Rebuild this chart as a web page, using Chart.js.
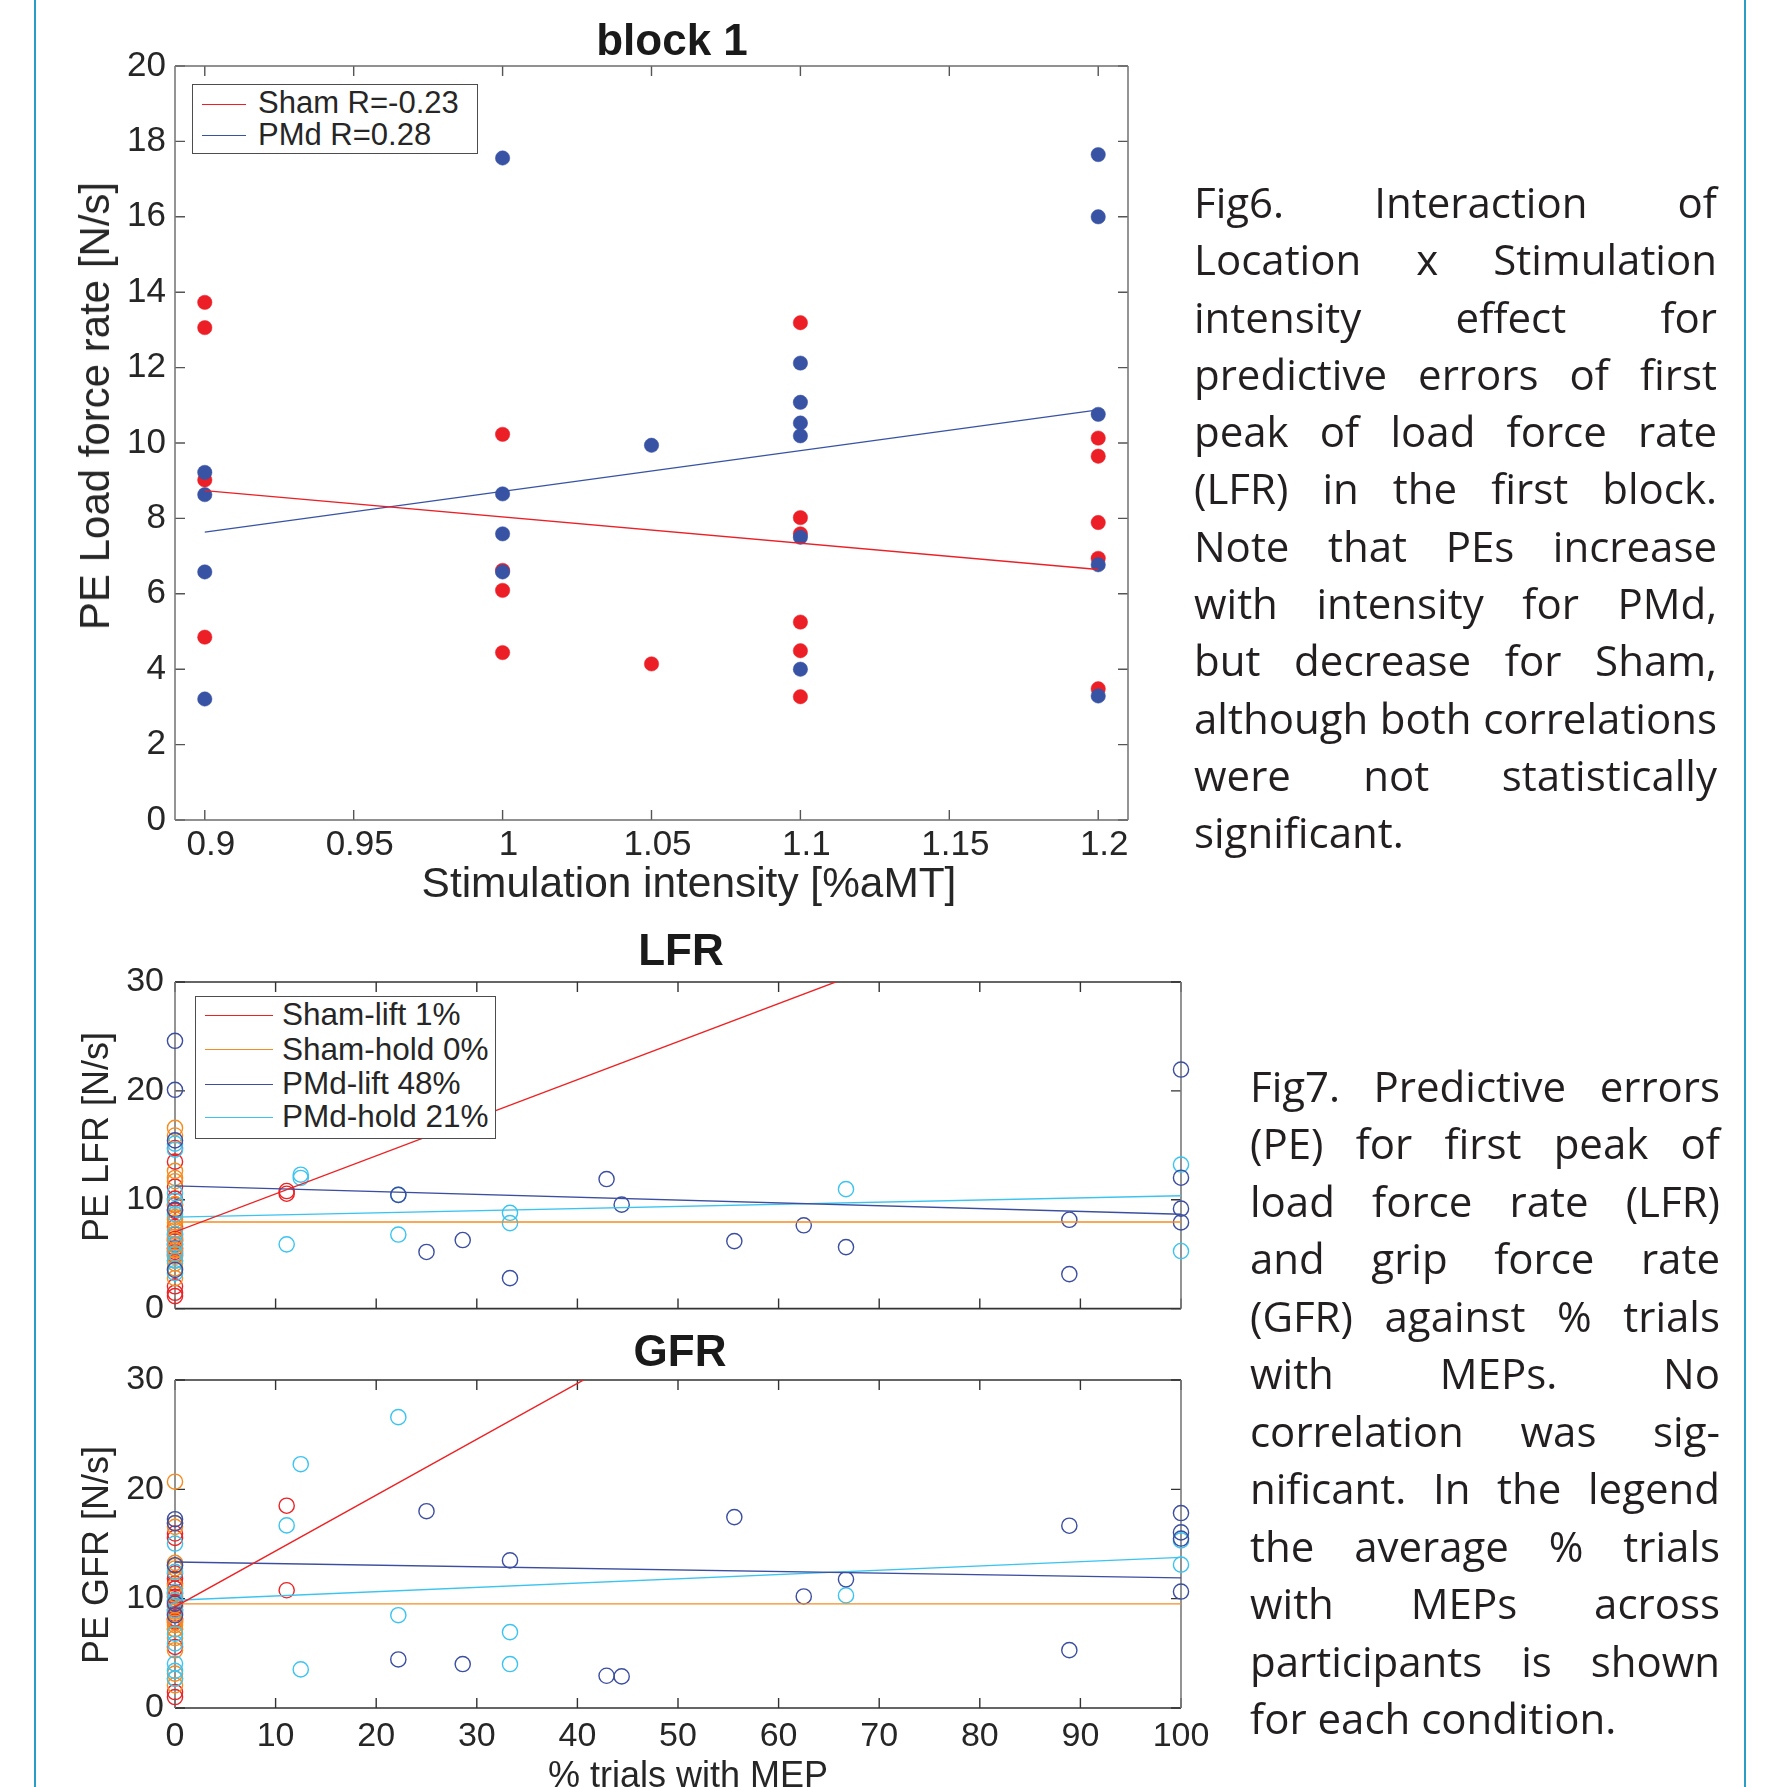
<!DOCTYPE html>
<html>
<head>
<meta charset="utf-8">
<script src="https://cdn.jsdelivr.net/npm/chart.js@4.4.1/dist/chart.umd.min.js"></script>
<style>
html,body{margin:0;padding:0;background:#fff;}
body{width:1782px;height:1787px;position:relative;overflow:hidden;font-family:'Liberation Sans',Arial,sans-serif;color:#262626;}
canvas{position:absolute;left:0;}
.vline{position:absolute;top:0;width:2px;height:1787px;background:#2a9dc6;}
.t{position:absolute;white-space:nowrap;line-height:1;}
.rot{position:absolute;white-space:nowrap;line-height:1;transform:translate(-50%,-50%) rotate(-90deg);}
.legend{position:absolute;border:1.5px solid #4d4d4d;background:#fff;box-sizing:border-box;z-index:5;}
.legend .ln{position:absolute;height:0;border-top:1.4px solid;}
.legend .t{color:#262626;}
.para{position:absolute;font-family:'Open Sans',sans-serif;font-size:42px;color:#231f20;}
.para div{white-space:nowrap;text-align:justify;text-align-last:justify;}
.para div.last{text-align:left;text-align-last:left;}
</style>
</head>
<body>
<div class="vline" style="left:34px"></div>
<div class="vline" style="left:1744px"></div>

<canvas id="c1" width="1200" height="900" style="top:0px"></canvas>
<canvas id="c2" width="1300" height="440" style="top:900px"></canvas>
<canvas id="c3" width="1300" height="457" style="top:1330px"></canvas>

<!-- Titles and axis labels -->
<div class="t" style="font-weight:bold;font-size:44px;left:672px;top:18px;transform:translateX(-50%);color:#1a1a1a">block 1</div>
<div class="t" style="font-size:42.4px;left:689px;top:862px;transform:translateX(-50%)">Stimulation intensity [%aMT]</div>
<div class="rot" style="font-size:42px;left:95.4px;top:406px">PE Load force rate [N/s]</div>

<div class="t" style="font-weight:bold;font-size:44px;left:681px;top:927.5px;transform:translateX(-50%);color:#1a1a1a">LFR</div>
<div class="rot" style="font-size:36px;left:95.5px;top:1137px">PE LFR [N/s]</div>

<div class="t" style="font-weight:bold;font-size:44px;left:680px;top:1328.5px;transform:translateX(-50%);color:#1a1a1a">GFR</div>
<div class="rot" style="font-size:36px;left:95.5px;top:1555px">PE GFR [N/s]</div>
<div class="t" style="font-size:36px;left:688px;top:1757px;transform:translateX(-50%)">% trials with MEP</div>

<!-- Legends -->
<div class="legend" style="left:192px;top:84px;width:286px;height:70px">
  <div class="ln" style="left:9px;width:44px;top:18.6px;border-color:#ec1f26"></div>
  <div class="t" style="font-size:31px;left:65px;top:2.4px">Sham R=-0.23</div>
  <div class="ln" style="left:9px;width:44px;top:50.3px;border-color:#3853a4"></div>
  <div class="t" style="font-size:31px;left:65px;top:33.7px">PMd R=0.28</div>
</div>
<div class="legend" style="left:195px;top:996px;width:301px;height:143px">
  <div class="ln" style="left:9px;width:68px;top:18.3px;border-color:#ed2224"></div>
  <div class="t" style="font-size:31.5px;left:86px;top:2.3px">Sham-lift 1%</div>
  <div class="ln" style="left:9px;width:68px;top:52.3px;border-color:#f68b1f"></div>
  <div class="t" style="font-size:31.5px;left:86px;top:36.6px">Sham-hold 0%</div>
  <div class="ln" style="left:9px;width:68px;top:86.6px;border-color:#3c4ea0"></div>
  <div class="t" style="font-size:31.5px;left:86px;top:70.6px">PMd-lift 48%</div>
  <div class="ln" style="left:9px;width:68px;top:120px;border-color:#3cc4f0"></div>
  <div class="t" style="font-size:31.5px;left:86px;top:104px">PMd-hold 21%</div>
</div>

<!-- Captions -->
<div class="para" style="left:1194px;top:173px;width:523px;line-height:57.3px">
<div>Fig6. Interaction of</div>
<div>Location x Stimulation</div>
<div>intensity effect for</div>
<div>predictive errors of first</div>
<div>peak of load force rate</div>
<div>(LFR) in the first block.</div>
<div>Note that PEs increase</div>
<div>with intensity for PMd,</div>
<div>but decrease for Sham,</div>
<div>although both correlations</div>
<div>were not statistically</div>
<div class="last">significant.</div>
</div>
<div class="para" style="left:1250px;top:1056.5px;width:470px;line-height:57.5px">
<div>Fig7. Predictive errors</div>
<div>(PE) for first peak of</div>
<div>load force rate (LFR)</div>
<div>and grip force rate</div>
<div>(GFR) against % trials</div>
<div>with MEPs. No</div>
<div>correlation was sig-</div>
<div>nificant. In the legend</div>
<div>the average % trials</div>
<div>with MEPs across</div>
<div>participants is shown</div>
<div class="last">for each condition.</div>
</div>

<script>
// ================= DATA: Fig6 (block 1) =================
const stimTicks = [0.9, 0.95, 1, 1.05, 1.1, 1.15, 1.2];
const stimTickLabels = ['0.9', '0.95', '1', '1.05', '1.1', '1.15', '1.2'];
const peTicks = [0, 2, 4, 6, 8, 10, 12, 14, 16, 18, 20];
const peTickLabels = ['0', '2', '4', '6', '8', '10', '12', '14', '16', '18', '20'];

const shamIntensity = [0.9, 0.9, 0.9, 0.9, 1, 1, 1, 1, 1.05, 1.1, 1.1, 1.1, 1.1, 1.1, 1.1, 1.2, 1.2, 1.2, 1.2, 1.2];
const shamPE        = [13.73, 13.06, 9.02, 4.85, 10.23, 6.62, 6.09, 4.44, 4.14, 13.19, 8.02, 7.59, 5.25, 4.49, 3.27, 10.13, 9.65, 7.89, 6.94, 3.48];
const pmdIntensity  = [0.9, 0.9, 0.9, 0.9, 1, 1, 1, 1, 1.05, 1.1, 1.1, 1.1, 1.1, 1.1, 1.1, 1.2, 1.2, 1.2, 1.2, 1.2];
const pmdPE         = [9.22, 8.63, 6.58, 3.21, 17.56, 8.65, 7.59, 6.58, 9.94, 12.12, 11.08, 10.53, 10.19, 7.50, 4.00, 17.65, 16.00, 10.76, 6.77, 3.29];

// ================= DATA: Fig7 (LFR / GFR vs % trials with MEP) =================
const mepTicks = [0, 10, 20, 30, 40, 50, 60, 70, 80, 90, 100];
const mepTickLabels = ['0', '10', '20', '30', '40', '50', '60', '70', '80', '90', '100'];
const rateTicks = [0, 10, 20, 30];
const rateTickLabels = ['0', '10', '20', '30'];

const shamLiftMEP = [0, 0, 0, 0, 0, 0, 0, 0, 0, 0, 0, 0, 0, 0, 0, 0, 0, 0, 11.1, 11.1];
const lfrShamLift = [14.75, 13.5, 11.2, 10.1, 9.5, 8.98, 7.5, 6.8, 6.4, 6.2, 5.9, 5.6, 5.5, 5.2, 4.9, 2.05, 1.45, 1.15, 10.8, 10.55];
const gfrShamLift = [15.96, 15.56, 12.3, 11.84, 11.38, 10.92, 10.5, 10.16, 9.7, 9.25, 9.0, 8.6, 8.2, 8.1, 7.9, 5.58, 1.46, 1.0, 18.5, 10.77];

const shamHoldMEP = [0, 0, 0, 0, 0, 0, 0, 0, 0, 0, 0, 0, 0, 0, 0, 0, 0, 0, 0, 0];
const lfrShamHold = [16.6, 15.9, 12.65, 12.0, 11.7, 9.6, 8.4, 8.2, 7.9, 7.2, 6.6, 6.27, 5.8, 5.36, 5.0, 4.76, 4.4, 4.16, 3.7, 2.8];
const gfrShamHold = [20.7, 16.9, 16.57, 13.27, 13.0, 12.76, 11.2, 10.4, 9.4, 8.8, 8.03, 7.8, 7.57, 7.2, 7.2, 6.4, 5.28, 3.14, 2.69, 2.08];

const pmdLiftMEP = [0, 0, 0, 0, 0, 22.2, 25, 28.6, 33.3, 42.9, 44.4, 55.6, 62.5, 66.7, 88.9, 88.9, 100, 100, 100, 100];
const lfrPmdLift = [24.6, 20.1, 15.45, 9.1, 3.55, 10.45, 5.2, 6.3, 2.8, 11.9, 9.55, 6.2, 7.65, 5.65, 8.16, 3.17, 21.96, 12.02, 9.18, 7.92];
const gfrPmdLift = [17.27, 16.9, 13.06, 9.55, 8.48, 4.44, 18.0, 4.02, 13.5, 2.95, 2.89, 17.46, 10.2, 11.77, 16.67, 5.29, 17.83, 16.06, 15.5, 10.65];

const pmdHoldMEP = [0, 0, 0, 0, 0, 0, 0, 0, 0, 0, 11.1, 12.5, 12.5, 22.2, 22.2, 33.3, 33.3, 66.7, 100, 100];
const lfrPmdHold = [15.15, 14.6, 10.6, 9.9, 8.67, 6.87, 5.96, 5.06, 4.4, 3.25, 5.9, 12.3, 12.0, 6.8, 10.45, 8.8, 7.85, 10.97, 13.23, 5.29];
const gfrPmdHold = [15.04, 12.45, 10.62, 9.86, 8.94, 6.8, 5.9, 4.06, 3.4, 2.69, 16.7, 22.3, 3.53, 26.6, 8.49, 6.94, 4.02, 10.3, 15.33, 13.11];

// fitted lines (values at the ends of the MEP axis)
const fitMEP = [0, 100];
const lfrFitShamLift = [7.04, 42.0];
const lfrFitShamHold = [7.95, 7.95];
const lfrFitPmdLift  = [11.27, 8.67];
const lfrFitPmdHold  = [8.40, 10.36];
const gfrFitShamLift = [9.25, 60.35];
const gfrFitShamHold = [9.52, 9.52];
const gfrFitPmdLift  = [13.36, 11.90];
const gfrFitPmdHold  = [9.86, 13.78];

// ================= STYLE =================
const C = {
  red6: '#ec1f26', blue6: '#3853a4',
  red: '#ed2224', orange: '#f68b1f', blue: '#3c4ea0', cyan: '#3cc4f0'
};
Chart.defaults.font.family = "'Liberation Sans', Arial, sans-serif";
Chart.defaults.color = '#262626';

const pts = (xs, ys) => xs.map((x, i) => ({x: x, y: ys[i]}));

function lsFit(xs, ys) {
  const n = xs.length;
  const mx = xs.reduce((a, b) => a + b, 0) / n;
  const my = ys.reduce((a, b) => a + b, 0) / n;
  let sxy = 0, sxx = 0;
  for (let i = 0; i < n; i++) { sxy += (xs[i] - mx) * (ys[i] - my); sxx += (xs[i] - mx) ** 2; }
  const b = sxy / sxx, a = my - b * mx;
  const x0 = Math.min(...xs), x1 = Math.max(...xs);
  return [{x: x0, y: a + b * x0}, {x: x1, y: a + b * x1}];
}

const matlabBox = {
  id: 'matlabBox',
  beforeDatasetsDraw(chart, args, o) {
    const {ctx, chartArea: a} = chart;
    const xs = chart.scales.x, ys = chart.scales.y;
    const L = o.tickLen;
    ctx.save();
    ctx.lineWidth = 1.4;
    ctx.strokeStyle = o.tickColor;
    ctx.beginPath();
    xs.ticks.forEach(t => {
      const p = xs.getPixelForValue(t.value);
      ctx.moveTo(p, a.bottom); ctx.lineTo(p, a.bottom - L);
      ctx.moveTo(p, a.top); ctx.lineTo(p, a.top + L);
    });
    ys.ticks.forEach(t => {
      const p = ys.getPixelForValue(t.value);
      ctx.moveTo(a.left, p); ctx.lineTo(a.left + L, p);
      ctx.moveTo(a.right, p); ctx.lineTo(a.right - L, p);
    });
    ctx.stroke();
    ctx.lineWidth = 1.6;
    ctx.strokeStyle = o.hColor;
    ctx.beginPath();
    ctx.moveTo(a.left, a.top); ctx.lineTo(a.right, a.top);
    ctx.moveTo(a.left, a.bottom); ctx.lineTo(a.right, a.bottom);
    ctx.stroke();
    ctx.strokeStyle = o.vColor;
    ctx.beginPath();
    ctx.moveTo(a.left, a.top); ctx.lineTo(a.left, a.bottom);
    ctx.moveTo(a.right, a.top); ctx.lineTo(a.right, a.bottom);
    ctx.stroke();
    ctx.restore();
  }
};

function axisCfg(o) {
  return {
    type: 'linear', min: o.min, max: o.max,
    afterBuildTicks: s => { s.ticks = o.ticks.map(v => ({value: v})); },
    afterFit: s => { if (o.width !== undefined) s.width = o.width; if (o.height !== undefined) s.height = o.height; },
    grid: {display: false, drawTicks: false},
    border: {display: false},
    ticks: {
      display: o.showLabels, autoSkip: false, maxRotation: 0, minRotation: 0,
      padding: o.padding, labelOffset: o.labelOffset || 0,
      font: {size: o.fontSize}, color: '#262626',
      callback: (v, i) => o.labels[i]
    }
  };
}

function baseOptions(pad, xAxis, yAxis, box) {
  return {
    responsive: false, animation: false, devicePixelRatio: 1,
    layout: {padding: pad},
    plugins: {legend: {display: false}, tooltip: {enabled: false}, title: {display: false}, matlabBox: box},
    scales: {x: xAxis, y: yAxis}
  };
}

// ---------------- Chart 1: block 1 ----------------
new Chart(document.getElementById('c1'), {
  type: 'scatter',
  data: {
    datasets: [
      {data: lsFit(shamIntensity, shamPE), showLine: true, borderColor: C.red6, borderWidth: 1.3, pointRadius: 0, clip: 0, order: 0},
      {data: lsFit(pmdIntensity, pmdPE), showLine: true, borderColor: C.blue6, borderWidth: 1.3, pointRadius: 0, clip: 0, order: 0},
      {data: pts(shamIntensity, shamPE), backgroundColor: C.red6, pointBackgroundColor: C.red6, pointBorderColor: C.red6, pointBorderWidth: 0.5, pointRadius: 7.2, clip: false, order: 2},
      {data: pts(pmdIntensity, pmdPE), backgroundColor: C.blue6, pointBackgroundColor: C.blue6, pointBorderColor: C.blue6, pointBorderWidth: 0.5, pointRadius: 7.2, clip: false, order: 1}
    ]
  },
  options: baseOptions({left: 0, right: 72, top: 66, bottom: 0},
    axisCfg({min: 0.89, max: 1.21, ticks: stimTicks, labels: stimTickLabels, showLabels: true, padding: 4, labelOffset: 6, fontSize: 35, height: 80}),
    axisCfg({min: 0, max: 20, ticks: peTicks, labels: peTickLabels, showLabels: true, padding: 9, fontSize: 35, width: 175}),
    {tickLen: 10, tickColor: '#555', hColor: '#6e6e6e', vColor: '#7a7a7a'}),
  plugins: [matlabBox]
});

// ---------------- Charts 2/3: LFR and GFR ----------------
function fig7Datasets(sl, sh, pl, ph, fSL, fSH, fPL, fPH) {
  const circ = (xs, ys, col, ord) => ({data: pts(xs, ys), pointBackgroundColor: 'rgba(0,0,0,0)', backgroundColor: 'rgba(0,0,0,0)',
    pointBorderColor: col, borderColor: col, pointBorderWidth: 1.4, pointRadius: 7.6, clip: false, order: ord});
  const fit = (ys, col) => ({data: pts(fitMEP, ys), showLine: true, borderColor: col, borderWidth: 1.4, pointRadius: 0, clip: 0, order: 0});
  return [
    fit(fSL, C.red), fit(fSH, C.orange), fit(fPL, C.blue), fit(fPH, C.cyan),
    circ(shamLiftMEP, sl, C.red, 4), circ(shamHoldMEP, sh, C.orange, 3),
    circ(pmdHoldMEP, ph, C.cyan, 2), circ(pmdLiftMEP, pl, C.blue, 1)
  ];
}

new Chart(document.getElementById('c2'), {
  type: 'scatter',
  data: {datasets: fig7Datasets(lfrShamLift, lfrShamHold, lfrPmdLift, lfrPmdHold, lfrFitShamLift, lfrFitShamHold, lfrFitPmdLift, lfrFitPmdHold)},
  options: baseOptions({left: 0, right: 119, top: 82, bottom: 0},
    axisCfg({min: 0, max: 100, ticks: mepTicks, labels: mepTickLabels, showLabels: false, padding: 6, fontSize: 34, height: 27}),
    axisCfg({min: 0, max: 30, ticks: rateTicks, labels: rateTickLabels, showLabels: true, padding: 11, fontSize: 34, width: 175}),
    {tickLen: 10, tickColor: '#333', hColor: '#333', vColor: '#7a7a7a'}),
  plugins: [matlabBox]
});

new Chart(document.getElementById('c3'), {
  type: 'scatter',
  data: {datasets: fig7Datasets(gfrShamLift, gfrShamHold, gfrPmdLift, gfrPmdHold, gfrFitShamLift, gfrFitShamHold, gfrFitPmdLift, gfrFitPmdHold)},
  options: baseOptions({left: 0, right: 119, top: 50, bottom: 0},
    axisCfg({min: 0, max: 100, ticks: mepTicks, labels: mepTickLabels, showLabels: true, padding: 8, fontSize: 34, height: 79}),
    axisCfg({min: 0, max: 30, ticks: rateTicks, labels: rateTickLabels, showLabels: true, padding: 11, fontSize: 34, width: 175}),
    {tickLen: 10, tickColor: '#333', hColor: '#333', vColor: '#7a7a7a'}),
  plugins: [matlabBox]
});
</script>
</body>
</html>
